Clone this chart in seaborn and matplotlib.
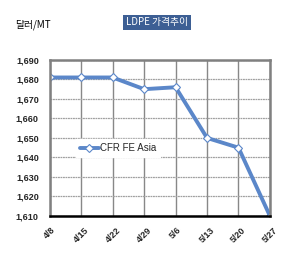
import pandas as pd
import seaborn as sns
import matplotlib.pyplot as plt
from matplotlib.ticker import FuncFormatter

sns.set_style("white")
plt.rcParams['font.family'] = ['Liberation Sans', 'Noto Sans CJK KR', 'DejaVu Sans']
plt.rcParams['axes.unicode_minus'] = False

# 데이터
dates = ["4/8", "4/15", "4/22", "4/29", "5/6", "5/13", "5/20", "5/27"]
prices = [1681, 1681, 1681, 1675, 1676, 1650, 1645, 1610]
series_name = "CFR FE Asia"
y_ticks = [1610, 1620, 1630, 1640, 1650, 1660, 1670, 1680, 1690]

df = pd.DataFrame({"date": dates, "price": prices, "series": series_name})

fig = plt.figure(figsize=(2.95, 2.64), dpi=100)
ax = fig.add_axes([0.169, 0.182, 0.746, 0.591])

sns.lineplot(data=df, x="date", y="price", hue="series", sort=False,
             palette=["#5B87C9"], linewidth=2.8, marker="D", markersize=4,
             markerfacecolor="white", markeredgecolor="#5B87C9",
             markeredgewidth=0.8, ax=ax)

ax.set_xlim(0, len(dates) - 1)
ax.set_ylim(1610, 1690)
ax.set_yticks(y_ticks)
ax.yaxis.set_major_formatter(FuncFormatter(lambda v, p: f"{int(v):,}"))
ax.set_xlabel("")
ax.set_ylabel("")

# 격자
ax.grid(True, axis="x", color="#888888", linewidth=1.0)
ax.grid(True, axis="y", color="#a0a0a0", linewidth=0.9, linestyle=(0, (1.5, 0.5)))
ax.set_axisbelow(True)

for side in ["top", "right", "left"]:
    ax.spines[side].set_color("#808080")
    ax.spines[side].set_linewidth(1.8)
ax.spines["bottom"].set_color("black")
ax.spines["bottom"].set_linewidth(1.8)

ax.tick_params(axis="y", length=0, pad=8)
ax.tick_params(axis="x", length=0, pad=7)
for lab in ax.get_yticklabels():
    lab.set_fontsize(6.5)
    lab.set_fontweight("bold")
for lab in ax.get_xticklabels():
    lab.set_fontsize(6.5)
    lab.set_fontweight("bold")
    lab.set_rotation(45)
    lab.set_ha("center")

leg = ax.legend(loc="center", bbox_to_anchor=(0.31, 0.436), frameon=True,
                fontsize=7, handlelength=2.0, handletextpad=0.1,
                borderpad=0.4, fancybox=False)
leg.get_frame().set_edgecolor("white")
leg.get_frame().set_facecolor("white")
leg.get_frame().set_alpha(1.0)

fig.text(0.532, 0.915, "LDPE 가격추이", ha="center", va="center", fontsize=7,
         color="white", family=["Noto Sans CJK KR", "DejaVu Sans"],
         bbox=dict(boxstyle="square,pad=0.3", facecolor="#3D5F94", edgecolor="none"))
fig.text(0.05, 0.905, "달러/MT", ha="left", va="center", fontsize=7,
         color="black", family=["Noto Sans CJK KR", "DejaVu Sans"])

fig.savefig("out.png", dpi=100)
